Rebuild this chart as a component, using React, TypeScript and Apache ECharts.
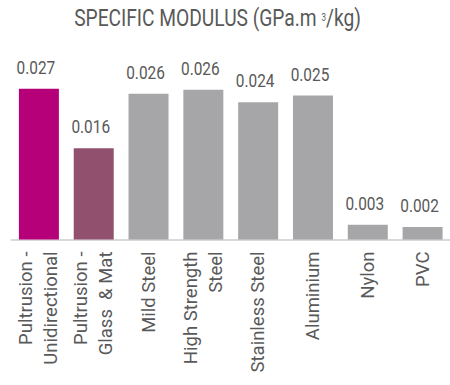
import React, { useEffect, useRef } from "react";
import * as echarts from "echarts";

// Materials compared, in display order
const categories: string[] = [
  "Pultrusion -\nUnidirectional",
  "Pultrusion -\nGlass  & Mat",
  "Mild Steel",
  "High Strength\nSteel",
  "Stainless Steel",
  "Aluminium",
  "Nylon",
  "PVC",
];

// Specific modulus, GPa·m³/kg
const modulus: number[] = [0.0266, 0.0161, 0.0257, 0.0264, 0.0242, 0.0254, 0.0026, 0.0022];

// Fill per bar: pultrusion products highlighted, other materials in grey
const barColors: string[] = [
  "#b5007a",
  "#91506e",
  "#a6a6a8",
  "#a6a6a8",
  "#a6a6a8",
  "#a6a6a8",
  "#a6a6a8",
  "#a6a6a8",
];

const FONT = "Roboto, sans-serif";
const TEXT_GREY = "#595959";
// horizontal squeeze that gives Roboto a condensed look
const CONDENSE = 0.81;

export default function App() {
  const ref = useRef<HTMLDivElement>(null);

  useEffect(() => {
    if (!ref.current) return;
    const chart = echarts.init(ref.current, undefined, { renderer: "svg" });
    chart.setOption({
      animation: false,
      backgroundColor: "#ffffff",
      graphic: [
        {
          type: "text",
          x: 217.5,
          y: 6,
          scaleX: 0.8,
          style: {
            text: "SPECIFIC MODULUS (GPa.m {sup|3}/kg)",
            align: "center",
            verticalAlign: "top",
            fontFamily: FONT,
            fontSize: 24,
            fill: TEXT_GREY,
            rich: {
              sup: { fontFamily: FONT, fontSize: 10, fill: TEXT_GREY },
            },
          },
        },
      ],
      grid: { left: 11.5, width: 445.7, top: 41, height: 198.5 },
      xAxis: {
        type: "category",
        data: categories,
        axisLine: { show: true, lineStyle: { color: "#d9d9d9", width: 2 } },
        axisTick: { show: false },
        axisLabel: {
          interval: 0,
          rotate: 90,
          margin: 12,
          fontFamily: FONT,
          fontSize: 18.5,
          color: TEXT_GREY,
          lineHeight: 25,
          padding: [0, 0, 9, 0],
        },
      },
      yAxis: {
        type: "value",
        min: 0,
        max: 0.035,
        show: false,
        splitLine: { show: false },
      },
      series: [
        {
          type: "bar",
          barWidth: 40,
          data: modulus.map((v, i) => ({ value: v, itemStyle: { color: barColors[i] } })),
        },
        {
          // value labels above each bar, drawn condensed
          type: "custom",
          data: modulus.map((v, i) => [i, v]),
          renderItem: (_params: any, api: any) => {
            const pt = api.coord([api.value(0), api.value(1)]);
            return {
              type: "text",
              x: pt[0] - 3,
              y: pt[1] - 12,
              scaleX: CONDENSE,
              style: {
                text: Number(api.value(1)).toFixed(3),
                align: "center",
                verticalAlign: "bottom",
                fontFamily: FONT,
                fontSize: 19,
                fill: TEXT_GREY,
              },
            };
          },
        },
      ],
    });
    return () => chart.dispose();
  }, []);

  return (
    <div
      ref={ref}
      style={{ position: "fixed", left: 0, top: 0, width: 450, height: 385 }}
    />
  );
}
